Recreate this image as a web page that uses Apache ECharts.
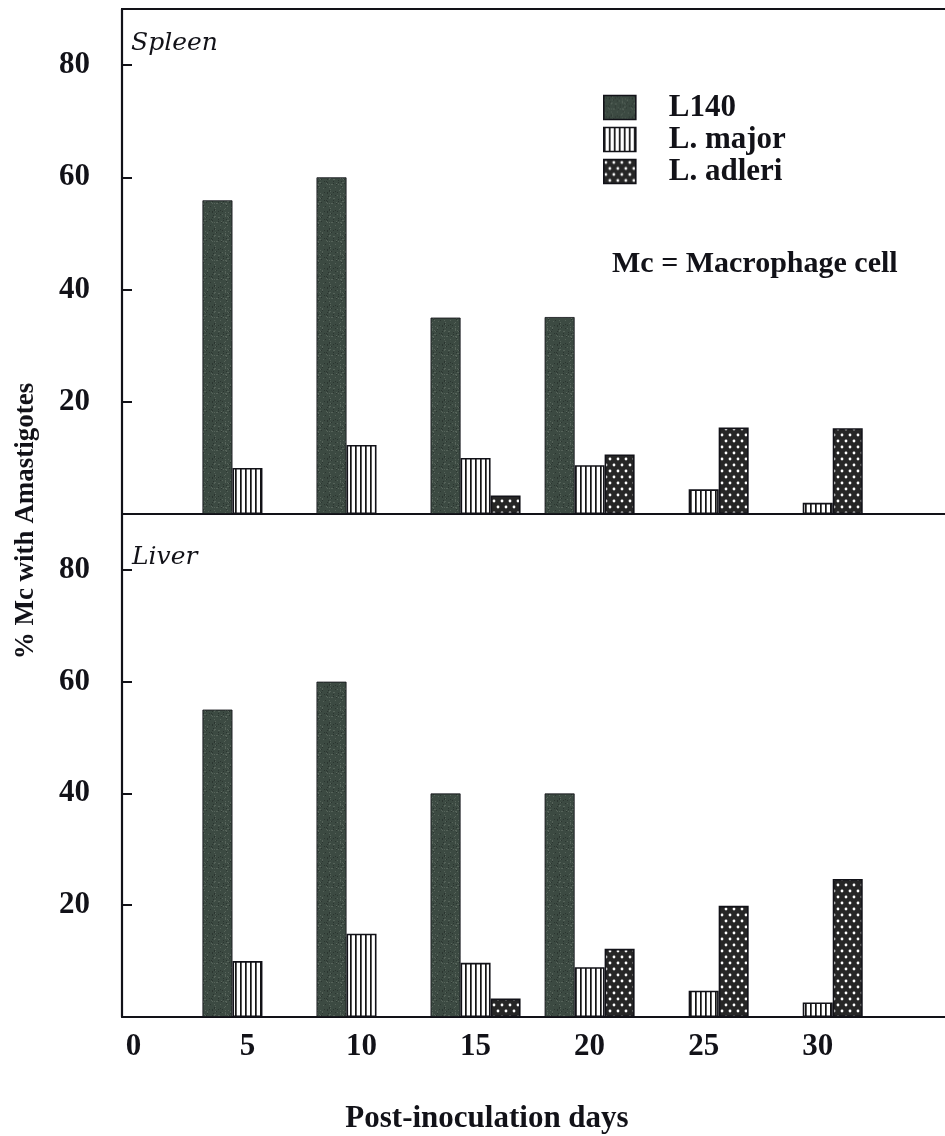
<!DOCTYPE html>
<html>
<head>
<meta charset="utf-8">
<script src="https://cdn.jsdelivr.net/npm/echarts@6/dist/echarts.min.js"></script>
<style>
html,body{margin:0;padding:0;background:#fff;}
#chart{width:945px;height:1136px;}
</style>
</head>
<body>
<div id="chart"></div>
<script>
// ---- data ----
const days = [5, 10, 15, 20, 25, 30];
const xTickLabels = [0, 5, 10, 15, 20, 25, 30];
const yTickLabels = [20, 40, 60, 80];
const seriesNames = ['L140', 'L. major', 'L. adleri'];
const spleenL140   = [55.9, 60, 35, 35.1, null, null];
const spleenMajor  = [8.2, 12.3, 10, 8.7, 4.4, 2.0];
const spleenAdleri = [null, null, 3.3, 10.6, 15.4, 15.3];
const liverL140    = [55, 60, 40, 40, null, null];
const liverMajor   = [10, 14.9, 9.7, 8.9, 4.7, 2.6];
const liverAdleri  = [null, null, 3.3, 12.2, 19.9, 24.7];

// ---- fill patterns ----
function speckle() {
  const w = 23, h = 19;
  const c = document.createElement('canvas'); c.width = w; c.height = h;
  const g = c.getContext('2d');
  g.fillStyle = '#3c4a42'; g.fillRect(0, 0, w, h);
  let s = 12345;
  function nxt() { s = (s * 1103515245 + 12345) % 2147483648; return s / 2147483648; }
  for (let i = 0; i < 70; i++) {
    const x = Math.floor(nxt() * w), y = Math.floor(nxt() * h);
    g.fillStyle = nxt() < 0.55 ? '#56635a' : '#2b3530';
    g.fillRect(x, y, 1, 1);
  }
  return c;
}
function stripes() {
  const c = document.createElement('canvas'); c.width = 5; c.height = 8;
  const g = c.getContext('2d');
  g.fillStyle = '#ffffff'; g.fillRect(0, 0, 5, 8);
  g.fillStyle = '#141414'; g.fillRect(0, 0, 1.7, 8);
  return c;
}
function dots() {
  const c = document.createElement('canvas'); c.width = 8; c.height = 12;
  const g = c.getContext('2d');
  g.fillStyle = '#262626'; g.fillRect(0, 0, 8, 12);
  g.fillStyle = '#ffffff';
  g.beginPath(); g.arc(2, 3, 1.4, 0, Math.PI * 2); g.fill();
  g.beginPath(); g.arc(6, 9, 1.4, 0, Math.PI * 2); g.fill();
  return c;
}
const fills = [
  { image: speckle(), repeat: 'repeat' },
  { image: stripes(), repeat: 'repeat' },
  { image: dots(), repeat: 'repeat' }
];

const ink = '#121218';
const serif = '"Liberation Serif", "DejaVu Serif", serif';

function pairs(vals) { return days.map((d, i) => [d, vals[i]]); }

function bar(name, vals, idx, k) {
  return {
    type: 'bar', name: name,
    xAxisIndex: idx, yAxisIndex: idx,
    data: pairs(vals),
    barWidth: 30, barGap: '0%',
    itemStyle: { color: fills[k], borderColor: ink, borderWidth: k === 0 ? 0.8 : 1.6 },
    emphasis: { disabled: true }
  };
}

const chart = echarts.init(document.getElementById('chart'), null, { renderer: 'canvas' });

const xBase = {
  type: 'value', min: -0.5, max: 36.5,
  splitLine: { show: false },
  axisTick: { show: false },
  axisLine: { show: true, onZero: false, lineStyle: { color: ink, width: 2 } }
};
const yBase = {
  type: 'value', min: 0, max: 90, interval: 10,
  splitLine: { show: false },
  axisLine: { show: true, onZero: false, lineStyle: { color: ink, width: 2.2 } },
  axisTick: { show: true, inside: true, length: 10, customValues: yTickLabels, lineStyle: { color: ink, width: 2 } },
  axisLabel: { customValues: yTickLabels, margin: 32, color: ink, fontFamily: serif, fontWeight: 'bold', fontSize: 31 }
};

chart.setOption({
  animation: false,
  backgroundColor: '#ffffff',
  grid: [
    { left: 122, width: 844, top: 9, height: 505, outerBoundsMode: 'none', containLabel: false,
      show: true, borderColor: ink, borderWidth: 2, backgroundColor: 'transparent' },
    { left: 122, width: 844, top: 514, height: 503, outerBoundsMode: 'none', containLabel: false }
  ],
  xAxis: [
    Object.assign({}, xBase, { gridIndex: 0, axisLabel: { show: false } }),
    Object.assign({}, xBase, {
      gridIndex: 1,
      axisLabel: { customValues: xTickLabels, margin: 14, color: ink, fontFamily: serif, fontWeight: 'bold', fontSize: 31 },
      name: 'Post-inoculation days', nameLocation: 'middle', nameGap: 86,
      nameTextStyle: { color: ink, fontFamily: serif, fontWeight: 'bold', fontSize: 31, padding: [0, 114, 0, 0] }
    })
  ],
  yAxis: [
    Object.assign({}, yBase, { gridIndex: 0 }),
    Object.assign({}, yBase, { gridIndex: 1 })
  ],
  legend: {
    data: seriesNames,
    icon: 'rect',
    orient: 'vertical', left: 603, top: 92, padding: 0,
    itemWidth: 32, itemHeight: 24, itemGap: 1,
    selectedMode: false,
    itemStyle: { borderColor: ink, borderWidth: 1.6 },
    textStyle: { color: ink, fontFamily: serif, fontWeight: 'bold', fontSize: 31, padding: [0, 0, 0, 28] }
  },
  graphic: [
    { type: 'text', left: 131, top: 31, style: { text: 'Spleen', font: 'italic 25px "DejaVu Serif", serif', fill: ink } },
    { type: 'text', left: 132, top: 545, style: { text: 'Liver', font: 'italic 25px "DejaVu Serif", serif', fill: ink } },
    { type: 'text', left: 612, top: 249, style: { text: 'Mc = Macrophage cell', font: 'bold 30px "Liberation Serif", serif', fill: ink } },
    { type: 'text', x: 26, y: 521, rotation: Math.PI / 2,
      style: { text: '% Mc with Amastigotes', font: 'bold 27px "Liberation Serif", serif', fill: ink, align: 'center', verticalAlign: 'middle' } }
  ],
  series: [
    bar(seriesNames[0], spleenL140, 0, 0),
    bar(seriesNames[1], spleenMajor, 0, 1),
    bar(seriesNames[2], spleenAdleri, 0, 2),
    bar(seriesNames[0], liverL140, 1, 0),
    bar(seriesNames[1], liverMajor, 1, 1),
    bar(seriesNames[2], liverAdleri, 1, 2)
  ]
});
</script>
</body>
</html>
